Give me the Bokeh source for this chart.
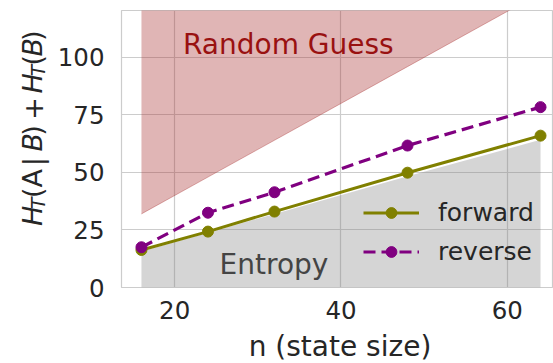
import math
from bokeh.plotting import figure
from bokeh.models import Range1d, Label, Legend, LegendItem, FixedTicker
from bokeh.layouts import row, column
from bokeh.embed import file_html
from bokeh.resources import INLINE

# data
n = [16, 24, 32, 48, 64]
forward = [16.3, 24.3, 33.0, 49.9, 66.0]
reverse = [17.5, 32.5, 41.4, 61.7, 78.4]
entropy = [15.6, 23.8, 32.0, 48.4, 64.2]
random_guess = [32, 48, 64, 96, 128]
guess_ceiling = [130, 130, 130, 130, 130]
x_ticks = [20, 40, 60]
y_ticks = [0, 25, 50, 75, 100]

FONT = "DejaVu Sans"
TXT = "#262626"

LAB_W = 54
MAIN_H = 329
XLAB_H = 363 - MAIN_H


def blank(width, height):
    f = figure(width=width, height=height, output_backend="svg", toolbar_location=None,
               title=None,
               x_range=Range1d(0, width), y_range=Range1d(0, height),
               x_axis_location=None, y_axis_location=None,
               min_border_left=0, min_border_right=0, min_border_top=0, min_border_bottom=0)
    f.grid.visible = False
    f.outline_line_color = None
    f.background_fill_color = "white"
    f.border_fill_color = "white"
    return f


p = figure(width=553 - LAB_W, height=MAIN_H, output_backend="svg", toolbar_location=None,
           title=None,
           x_range=Range1d(13.6, 65.56), y_range=Range1d(0, 120.4),
           min_border_left=66, min_border_right=0, min_border_top=10,
           min_border_bottom=MAIN_H - 287)
p.background_fill_color = "white"
p.border_fill_color = "white"
p.outline_line_color = "#cccccc"
p.outline_line_width = 1.2

for ax in (p.xaxis[0], p.yaxis[0]):
    ax.axis_line_color = None
    ax.major_tick_line_color = None
    ax.minor_tick_line_color = None
    ax.major_tick_out = 0
    ax.major_tick_in = 0
    ax.major_label_text_font = FONT
    ax.major_label_text_font_size = "24.5px"
    ax.major_label_text_color = TXT

p.xaxis.ticker = FixedTicker(ticks=x_ticks)
p.yaxis.ticker = FixedTicker(ticks=y_ticks)
p.xaxis.major_label_standoff = 13
p.yaxis.major_label_standoff = 17

p.xgrid.grid_line_color = "#cccccc"
p.ygrid.grid_line_color = "#cccccc"
p.xgrid.grid_line_width = 1.2
p.ygrid.grid_line_width = 1.2

# shaded regions
p.varea(x=n, y1=random_guess, y2=guess_ceiling, fill_color="#a52a2a", fill_alpha=0.35)
p.line(x=n, y=random_guess, line_color="#a52a2a", line_alpha=0.35, line_width=1)
p.varea(x=n, y1=[0] * len(n), y2=entropy, fill_color="#808080", fill_alpha=0.33)

# series
OLIVE = "#808000"
PURPLE = "#800080"
l1 = p.line(x=n, y=forward, line_color=OLIVE, line_width=3)
s1 = p.scatter(x=n, y=forward, size=11, fill_color=OLIVE, line_color=OLIVE)
l2 = p.line(x=n, y=reverse, line_color=PURPLE, line_width=3.2, line_dash="12 6")
s2 = p.scatter(x=n, y=reverse, size=11, fill_color=PURPLE, line_color=PURPLE)

legend = Legend(items=[LegendItem(label="forward", renderers=[l1, s1]),
                       LegendItem(label="reverse", renderers=[l2, s2])],
                location=(242, 16), padding=0, margin=0, spacing=0,
                glyph_width=56, glyph_height=27, label_height=39,
                label_standoff=19,
                label_text_font=FONT, label_text_font_size="25px",
                label_text_color=TXT,
                background_fill_alpha=0, border_line_alpha=0)
p.add_layout(legend)

# annotations
p.add_layout(Label(x=21.0, y=105.6, text="Random Guess", text_font=FONT,
                   text_font_size="28px", text_color="#991111",
                   text_baseline="alphabetic"))
p.add_layout(Label(x=25.4, y=9.9, text="Entropy", text_font=FONT,
                   text_font_size="28px", text_color="#444444",
                   text_baseline="alphabetic"))

# y-axis label H_T(A | B) + H_T(B), built from rotated pieces
ylab = blank(LAB_W, MAIN_H)
FS = 27.0
SUB = 0.7 * FS
ADV = {"H": 0.752, "T": 0.611, "(": 0.390, ")": 0.390, "A": 0.684, "B": 0.686,
       "|": 0.337, " ": 0.318, "+": 0.838}
ylabel_parts = [
    ("H", "italic", False),
    ("T", "italic", True),
    ("(A", "normal", False),
    (" ", "normal", False),
    ("|", "normal", False),
    (" ", "normal", False),
    ("B", "italic", False),
    (")", "normal", False),
    (" ", "normal", False),
    ("+", "normal", False),
    (" ", "normal", False),
    ("H", "italic", False),
    ("T", "italic", True),
    ("(", "normal", False),
    ("B", "italic", False),
    (")", "normal", False),
]
base_x = 32.3
pos = MAIN_H - 256.0
for txt, style, sub in ylabel_parts:
    size = SUB if sub else FS
    if txt.strip():
        ylab.add_layout(Label(x=base_x + (4.8 if sub else 0.0), y=pos,
                              text=txt, angle=math.pi / 2, text_font=FONT,
                              text_font_size=f"{size:.1f}px", text_font_style=style,
                              text_color=TXT, text_align="left", text_baseline="alphabetic"))
    pos += sum(ADV[c] for c in txt) * size + (1.5 if sub else 0.0)

# x-axis label
xlab = blank(553, XLAB_H)
xlab.add_layout(Label(x=339.5, y=16.6, text="n (state size)", text_font=FONT,
                      text_font_size="28px", text_color=TXT,
                      text_align="center", text_baseline="alphabetic"))

layout = column(row(ylab, p, spacing=0), xlab, spacing=0)
open("out.html", "w").write(file_html(layout, INLINE))
